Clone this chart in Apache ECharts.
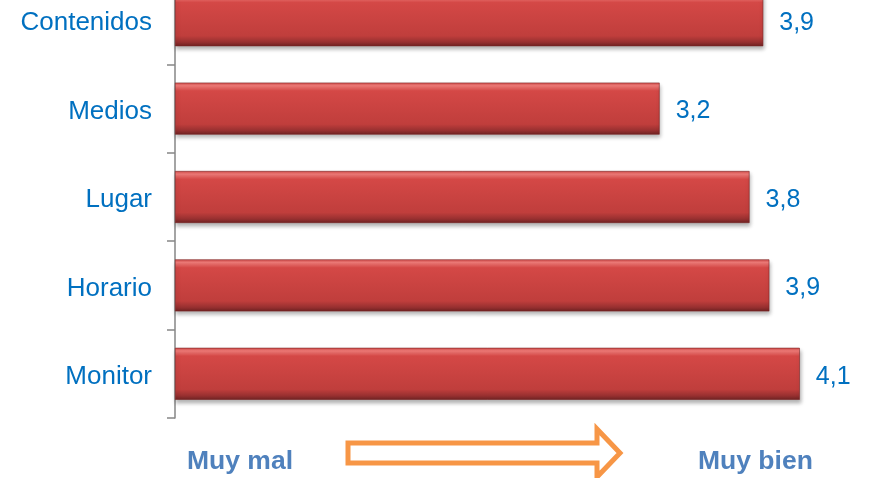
<!DOCTYPE html>
<html>
<head>
<meta charset="utf-8">
<script src="https://cdn.jsdelivr.net/npm/echarts@6/dist/echarts.min.js"></script>
<style>
	html, body { margin: 0; padding: 0; background: #fff; overflow: hidden; width: 870px; height: 478px; position: relative; }
	/* the reference is a crop: axis runs past the top and right edges */
	#chart { position: absolute; left: 0; top: -24px; width: 937px; height: 502px; }
</style>
</head>
<body>
<div id="chart"></div>
<script>
	var categories = [ "Contenidos", "Medios", "Lugar", "Horario", "Monitor" ];
	var scores = [ 3.86, 3.18, 3.77, 3.9, 4.1 ];
	var scaleLeft = "Muy mal";
	var scaleRight = "Muy bien";

	var labelBlue = "#0070C0";
	var noteBlue = "#4F81BD";
	var arrowOrange = "#F79646";
	var shiftY = 24;

	var chart = echarts.init(document.getElementById("chart"));

	// vertical gradient gives the bevelled red bar look
	var barFill = new echarts.graphic.LinearGradient(0, 0, 0, 1, [
		{ offset: 0, color: "#d24a48" },
		{ offset: 0.06, color: "#f27c79" },
		{ offset: 0.16, color: "#d44846" },
		{ offset: 0.8, color: "#c03e3c" },
		{ offset: 0.92, color: "#983030" },
		{ offset: 1, color: "#6e2222" }
	]);

	var arrowPts = [ [348, 443], [597, 443], [597, 429], [620, 453], [597, 477], [597, 463], [348, 463] ];

	chart.setOption({
		animation: false,
		grid: { left: 175, right: 0, top: 0, bottom: 60 },
		xAxis: {
			type: "value",
			min: 0,
			max: 5,
			show: false
		},
		yAxis: {
			type: "category",
			inverse: true,
			data: categories,
			axisLine: { show: true, lineStyle: { color: "#868686", width: 1.5 } },
			axisTick: { show: true, length: 8, lineStyle: { color: "#868686", width: 1.5 } },
			axisLabel: {
				margin: 23,
				color: labelBlue,
				fontSize: 26,
				fontFamily: "Liberation Sans",
				verticalAlign: "top",
				lineHeight: 6
			}
		},
		series: [ {
			type: "bar",
			data: scores,
			barWidth: 52,
			itemStyle: {
				color: barFill,
				borderColor: "#7a2424",
				borderWidth: 0.6,
				shadowColor: "rgba(0,0,0,0.3)",
				shadowBlur: 4,
				shadowOffsetY: 3,
				shadowOffsetX: 1
			},
			label: {
				show: true,
				position: "right",
				distance: 16,
				offset: [0, 3],
				color: labelBlue,
				fontSize: 25,
				fontFamily: "Liberation Sans",
				formatter: function(p) {
					return p.value.toFixed(1).replace(".", ",");
				}
			}
		} ],
		graphic: [ {
			type: "text",
			left: 187,
			top: 448 + shiftY,
			style: {
				text: scaleLeft,
				fill: noteBlue,
				font: "bold 26.5px 'Liberation Sans'"
			}
		}, {
			type: "text",
			left: 698,
			top: 448 + shiftY,
			style: {
				text: scaleRight,
				fill: noteBlue,
				font: "bold 26.5px 'Liberation Sans'"
			}
		}, {
			type: "polygon",
			shape: {
				points: arrowPts.map(function(p) { return [p[0], p[1] + shiftY]; })
			},
			style: {
				fill: "#fff",
				stroke: arrowOrange,
				lineWidth: 5,
				lineJoin: "miter"
			}
		} ]
	});
</script>
</body>
</html>
